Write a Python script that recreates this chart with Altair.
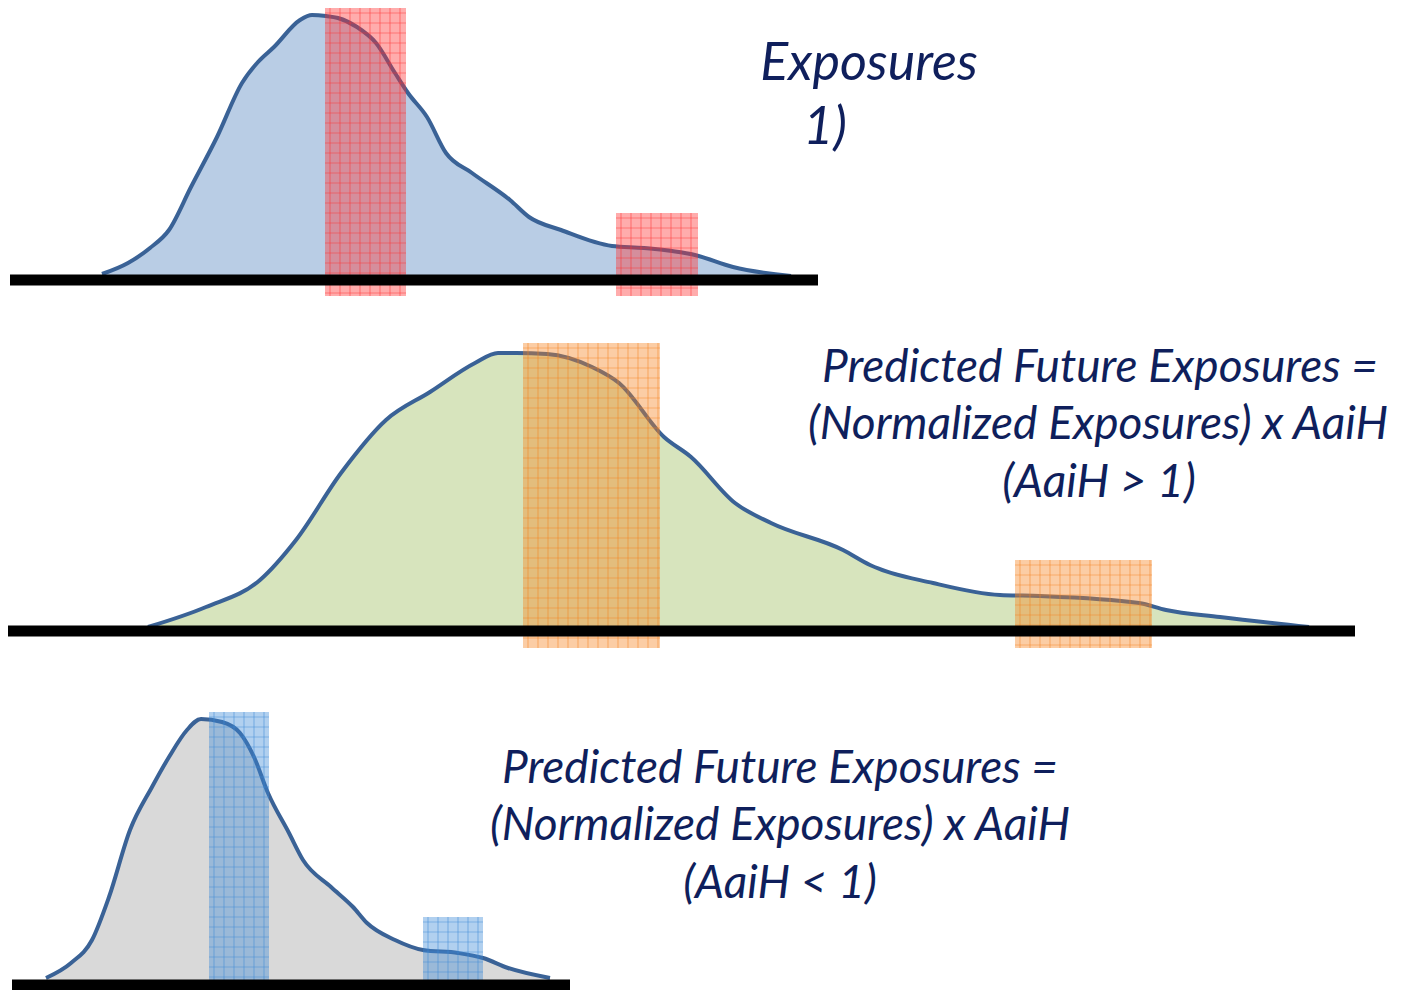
import altair as alt
import pandas as pd

# ---- curve data (diagram units) ----
top_x = [102, 128, 150, 169, 191, 217, 242, 258, 274, 300, 312, 326, 338, 357, 376, 395, 408, 427, 446, 472, 510, 529, 561, 612, 644, 695, 733, 791]
top_y = [274, 263, 248, 230, 187, 137, 83, 62, 47, 20, 15, 16, 18, 27, 43, 73, 93, 117, 153, 173, 200, 217, 230, 246, 248, 255, 267, 276]
top_base = 278

mid_x = [148, 206, 260, 296, 341, 386, 430, 475, 498, 516, 547, 592, 619, 664, 691, 735, 771, 843, 870, 933, 1000, 1040, 1139, 1166, 1220, 1309]
mid_y = [627, 607, 580, 540, 473, 420, 392, 363, 353, 353, 354, 367, 383, 437, 457, 503, 523, 550, 565, 583, 595, 596, 603, 610, 617, 627]
mid_base = 629

bot_x = [46, 71, 92, 109, 130, 152, 169, 187, 201, 222, 240, 254, 268, 289, 303, 331, 353, 367, 395, 423, 458, 483, 508, 550]
bot_y = [978, 963, 940, 897, 830, 787, 757, 730, 719, 722, 733, 757, 793, 833, 860, 887, 907, 923, 940, 950, 953, 958, 968, 978]
bot_base = 980

# baselines
base_x0 = [10, 0, 12]
base_x1 = [818, 1355, 570]
base_y = [280, 631, 985]

# highlighted bins
rect_x0 = [325, 616, 523, 1015, 209, 423]
rect_x1 = [406, 698, 660, 1152, 269, 483]
rect_y0 = [8, 213, 343, 560, 712, 917]
rect_y1 = [296, 296, 648, 648, 998, 998]
rect_group = ["top", "top", "mid", "mid", "bot", "bot"]

# text
txt = ["Exposures", "1)",
       "Predicted Future Exposures =", "(Normalized Exposures) x AaiH", "(AaiH > 1)",
       "Predicted Future Exposures =", "(Normalized Exposures) x AaiH", "(AaiH < 1)"]
txt_x = [869, 825, 1100, 1098, 1099, 780, 780, 780]
txt_y = [64, 128, 368, 425, 483, 769, 826, 884]
txt_size = [52, 52, 46, 46, 46, 46, 46, 46]

W, H = 1387, 982
xs = alt.Scale(domain=[8, 8 + W], nice=False, zero=False)
ys = alt.Scale(domain=[8, 8 + H], nice=False, zero=False, reverse=True)
X = lambda f: alt.X(f, type="quantitative", scale=xs, axis=None)
Y = lambda f: alt.Y(f, type="quantitative", scale=ys, axis=None)
cscale = alt.Scale(domain=["top", "mid", "bot"], range=["#FF3030", "#F5821F", "#3D8AD6"])

def curve(xv, yv, base, fill):
    df = pd.DataFrame({"x": xv, "y": yv, "b": [base] * len(xv)})
    area = alt.Chart(df).mark_area(color=fill, interpolate="monotone").encode(
        x=X("x"), y=Y("y"), y2="b")
    line = alt.Chart(df).mark_line(color="#3A6296", strokeWidth=4, interpolate="monotone").encode(
        x=X("x"), y=Y("y"))
    return area, line

a1, l1 = curve(top_x, top_y, top_base, "#B9CDE5")
a2, l2 = curve(mid_x, mid_y, mid_base, "#D7E4BD")
a3, l3 = curve(bot_x, bot_y, bot_base, "#D9D9D9")

bdf = pd.DataFrame({"x0": base_x0, "x1": base_x1, "y": base_y})
bases = alt.Chart(bdf).mark_rule(color="black", strokeWidth=11).encode(
    x=X("x0"), x2="x1", y=Y("y"))

rdf = pd.DataFrame({"x0": rect_x0, "x1": rect_x1, "y0": rect_y0, "y1": rect_y1, "g": rect_group})
rects = alt.Chart(rdf).mark_rect(opacity=0.4).encode(
    x=X("x0"), x2="x1", y=Y("y0"), y2="y1",
    color=alt.Color("g:N", scale=cscale, legend=None))

# texture grid inside each highlighted bin (derived from the bin bounds)
rows = []
for x0, x1, y0, y1, g in zip(rect_x0, rect_x1, rect_y0, rect_y1, rect_group):
    gx = x0 + 5
    while gx < x1:
        rows.append({"a": gx, "b": gx, "c": y0, "d": y1, "g": g})
        gx += 10
    gy = y0 + 5
    while gy < y1:
        rows.append({"a": x0, "b": x1, "c": gy, "d": gy, "g": g})
        gy += 10
gdf = pd.DataFrame(rows)
grid = alt.Chart(gdf).mark_rule(strokeWidth=1.2, opacity=0.45).encode(
    x=X("a"), x2="b", y=Y("c"), y2="d",
    color=alt.Color("g:N", scale=cscale, legend=None))

tdf = pd.DataFrame({"t": txt, "x": txt_x, "y": txt_y, "s": txt_size})
texts = alt.Chart(tdf).mark_text(font="Lato", fontStyle="italic",
                                 color="#0F1F5C", align="center", baseline="middle").encode(
    x=X("x"), y=Y("y"), text="t:N", size=alt.Size("s:Q", scale=None, legend=None))

chart = alt.layer(a1, a2, a3, l1, l2, l3, rects, grid, bases, texts).properties(
    width=W, height=H, padding=0,
    autosize=alt.AutoSizeParams(type="none")
).configure_view(stroke=None)

chart.save("out.html", embed_options={"renderer": "svg", "actions": False})
